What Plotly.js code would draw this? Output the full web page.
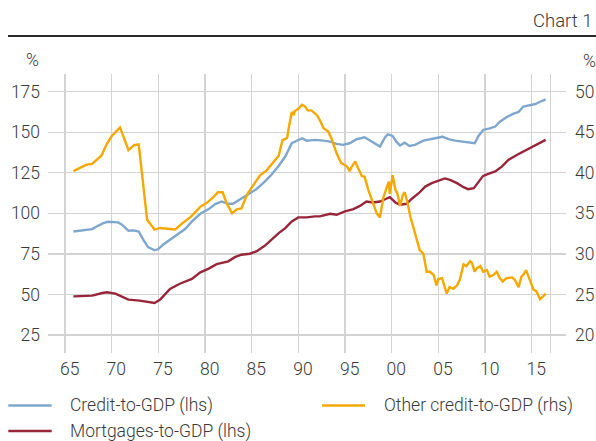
<!DOCTYPE html>
<html>
<head>
<meta charset="utf-8">
<script src="https://cdn.plot.ly/plotly-3.0.1.min.js"></script>
<style>html,body{margin:0;padding:0;background:#fff;}#chart{width:596px;height:441px;}</style>
</head>
<body>
<div id="chart"></div>
<script>
// ---- Data ----
const creditYears = [1965.9,1967.0,1967.9,1968.4,1969.1,1969.6,1970.7,1971.1,1971.8,1972.3,1972.9,1973.4,1973.9,1974.6,1975.0,1975.5,1976.25,1977.1,1977.9,1978.6,1979.5,1980.4,1981.1,1981.8,1982.5,1983.0,1983.75,1984.6,1985.5,1986.4,1987.1,1987.9,1988.6,1989.3,1989.8,1990.4,1990.9,1991.8,1992.7,1993.4,1994.1,1994.8,1995.5,1996.25,1997.1,1997.9,1998.75,1999.3,1999.6,2000.1,2000.5,2000.9,2001.4,2001.9,2002.5,2003.4,2004.3,2005.2,2005.4,2006.1,2006.8,2007.5,2008.2,2008.9,2009.3,2009.8,2010.5,2011.1,2011.6,2012.3,2013.0,2013.6,2014.1,2014.8,2015.4,2015.9,2016.5];
const creditValues = [88.8,89.5,90.3,91.9,94.0,94.8,94.4,93.0,89.3,89.5,88.8,83.7,79.2,77.2,78.0,80.6,83.7,87.4,90.5,95.0,99.7,102.6,105.7,107.3,105.9,105.9,108.7,111.4,114.9,119.6,123.7,129.3,135.0,143.2,144.8,146.3,144.8,145.3,144.8,144.2,142.8,142.2,143.2,145.7,146.9,144.2,141.2,146.9,148.7,147.7,144.2,141.8,143.6,141.6,142.2,144.8,145.7,146.9,147.3,145.7,144.8,144.2,143.8,143.2,147.7,151.4,152.4,153.5,156.5,159.2,161.3,162.5,165.8,166.8,167.4,168.8,170.3];

const mortgageYears = [1965.9,1967.9,1969.0,1969.5,1970.4,1971.8,1973.0,1974.6,1975.2,1976.25,1977.3,1978.6,1979.5,1980.4,1981.25,1982.0,1982.5,1983.2,1983.9,1984.8,1985.5,1986.4,1987.1,1987.9,1988.6,1989.3,1990.0,1990.9,1991.8,1992.3,1993.4,1994.1,1995.0,1995.9,1996.6,1997.3,1998.0,1998.75,1999.3,1999.8,2000.4,2000.9,2001.6,2002.1,2002.9,2003.6,2004.3,2005.2,2005.7,2006.25,2007.0,2007.7,2008.2,2008.8,2009.3,2009.8,2010.5,2011.1,2011.8,2012.5,2013.4,2014.3,2015.2,2015.9,2016.5];
const mortgageValues = [48.8,49.3,50.9,51.3,50.5,46.8,46.2,44.7,46.8,53.4,56.6,59.6,63.6,65.9,68.7,69.8,70.4,73.0,74.5,75.1,76.5,80.0,83.7,87.8,90.9,95.0,97.5,97.5,98.1,98.1,99.7,99.1,101.2,102.6,104.6,107.3,106.7,107.3,108.7,110.0,106.7,105.3,105.9,108.7,112.4,116.5,118.6,120.6,121.5,120.6,118.6,116.1,114.9,115.5,119.6,123.1,124.7,125.8,128.8,132.9,136.0,138.7,141.2,143.6,145.3];

const otherYears = [1965.9,1966.6,1967.3,1967.9,1968.4,1968.9,1969.5,1970.0,1970.9,1971.8,1972.4,1972.9,1973.8,1974.6,1975.2,1975.9,1976.8,1977.5,1978.5,1979.5,1980.2,1980.9,1981.4,1981.9,1982.3,1982.9,1983.4,1983.9,1984.5,1985.2,1985.9,1986.6,1987.1,1987.6,1987.9,1988.3,1988.8,1989.0,1989.3,1989.5,1989.6,1990.0,1990.4,1990.7,1991.0,1991.4,1992.0,1992.3,1992.7,1993.2,1993.6,1994.1,1994.6,1995.2,1995.5,1995.7,1996.1,1996.4,1996.8,1997.1,1997.5,1998.0,1998.4,1998.75,1999.1,1999.5,1999.7,1999.8,2000.1,2000.4,2000.6,2000.9,2001.2,2001.4,2001.7,2002.0,2002.3,2002.7,2003.0,2003.4,2003.75,2004.1,2004.5,2004.8,2005.0,2005.4,2005.9,2006.2,2006.6,2007.0,2007.3,2007.7,2008.0,2008.4,2008.6,2008.9,2009.1,2009.5,2009.8,2010.2,2010.5,2010.9,2011.25,2011.6,2011.9,2012.3,2012.9,2013.2,2013.6,2013.9,2014.1,2014.4,2014.8,2015.2,2015.5,2015.9,2016.25,2016.5];
const otherValues = [40.2,40.6,41.0,41.1,41.6,42.1,43.6,44.5,45.6,42.8,43.4,43.5,34.2,33.0,33.2,33.1,33.0,33.7,34.6,35.8,36.3,37.0,37.6,37.6,36.3,35.0,35.5,35.6,37.3,38.5,39.7,40.3,41.0,41.7,42.1,44.0,44.3,45.7,47.5,47.1,47.6,47.9,48.4,48.2,47.7,47.7,47.1,46.5,45.5,45.1,44.1,42.4,41.2,40.8,40.2,40.7,41.4,40.6,39.6,39.5,37.9,36.3,35.0,34.5,36.9,38.3,38.9,37.4,39.7,37.9,37.5,35.9,37.3,37.6,36.3,34.6,33.4,31.9,30.5,30.0,27.8,27.8,27.4,26.1,26.9,27.0,25.1,25.9,25.7,26.1,26.8,28.7,28.5,29.1,28.9,27.8,28.2,28.5,27.8,28.0,27.2,27.4,27.8,27.0,26.6,27.0,27.1,26.8,25.9,27.2,27.4,28.0,26.8,25.6,25.4,24.4,24.8,25.1];

const seriesNames = ["Credit-to-GDP (lhs)", "Other credit-to-GDP (rhs)", "Mortgages-to-GDP (lhs)"];
const gridYears = [1965,1970,1975,1980,1985,1990,1995,2000,2005,2010,2015,2017];
const labelYears = [1965.5,1970.5,1975.5,1980.5,1985.5,1990.5,1995.5,2000.5,2005.5,2010.5,2015.5];
const xTickLabels = ["65","70","75","80","85","90","95","00","05","10","15"];
const leftTicks = [25,50,75,100,125,150,175];
const rightTicks = [20,25,30,35,40,45,50];

// ---- Styling ----
const FAMILY = "Roboto, 'Liberation Sans', sans-serif";
const TXT = "#3a3a3a";
const TICKFONT = {family: FAMILY, size: 17.5, color: TXT, weight: 300};
const LEGFONT = {family: FAMILY, size: 17.5, color: TXT, weight: 300};
const GRID = "#d3d3d3";
const COLORS = ["#7fa7cd", "#f6a800", "#98263a"];
const XR = [1963.18, 2018.68];
const YL = [13.9, 185.9];
const YR = [17.78, 52.18];
const L = 48, R = 30, T = 74, B = 88, W = 596, H = 441;
const pw = W - L - R, ph = H - T - B;
const xp = px => (px - L) / pw;
const yp = py => (H - B - py) / ph;

const traces = [
  {x: creditYears, y: creditValues, name: seriesNames[0], type: "scatter", mode: "lines",
   line: {color: COLORS[0], width: 2.4}, xaxis: "x", yaxis: "y"},
  {x: otherYears, y: otherValues, name: seriesNames[1], type: "scatter", mode: "lines",
   line: {color: COLORS[1], width: 2.4}, xaxis: "x", yaxis: "y2"},
  {x: mortgageYears, y: mortgageValues, name: seriesNames[2], type: "scatter", mode: "lines",
   line: {color: COLORS[2], width: 2.4}, xaxis: "x", yaxis: "y"},
  // invisible helper to activate the label axis
  {x: [XR[0]], y: [YL[0]], xaxis: "x2", yaxis: "y", mode: "markers", marker: {opacity: 0},
   showlegend: false, hoverinfo: "skip"}
];

// legend drawn as line samples + text (positions)
const legendPos = [
  {lx0: 8.3, lx1: 51.7, tx: 68, y: 405.5},
  {lx0: 322, lx1: 365, tx: 382, y: 405.5},
  {lx0: 8.3, lx1: 51.7, tx: 68, y: 431}
];

const shapes = [
  {type: "line", xref: "paper", yref: "paper", x0: xp(8), x1: xp(596), y0: yp(36), y1: yp(36),
   line: {color: "#2a2a2a", width: 2}}
];
const annotations = [
  {text: "Chart 1", xref: "paper", yref: "paper", x: xp(595), y: yp(20.7), xanchor: "right", yanchor: "middle",
   showarrow: false, font: {family: FAMILY, size: 18.5, color: TXT, weight: 300}},
  {text: "%", xref: "paper", yref: "paper", x: xp(32), y: yp(60), xanchor: "center", yanchor: "middle",
   showarrow: false, font: TICKFONT},
  {text: "%", xref: "paper", yref: "paper", x: xp(589), y: yp(60.5), xanchor: "center", yanchor: "middle",
   showarrow: false, font: TICKFONT}
];
seriesNames.forEach((n, i) => {
  const p = legendPos[i];
  shapes.push({type: "line", xref: "paper", yref: "paper", x0: xp(p.lx0), x1: xp(p.lx1), y0: yp(p.y), y1: yp(p.y),
               line: {color: COLORS[i], width: 2.6}});
  annotations.push({text: n, xref: "paper", yref: "paper", x: xp(p.tx), y: yp(p.y), xanchor: "left", yanchor: "middle",
                    showarrow: false, font: LEGFONT});
});

const layout = {
  width: W, height: H,
  margin: {l: L, r: R, t: T, b: B, pad: 0, autoexpand: false},
  paper_bgcolor: "#fff", plot_bgcolor: "#fff",
  font: TICKFONT,
  showlegend: false,
  xaxis: {range: XR, tickmode: "array", tickvals: gridYears, ticktext: gridYears.map(() => ""),
          showgrid: true, gridcolor: GRID, gridwidth: 1.3, zeroline: false, showline: false,
          ticks: "", automargin: false},
  xaxis2: {range: XR, overlaying: "x", side: "bottom", tickmode: "array", tickvals: labelYears,
           ticktext: xTickLabels, showgrid: false, zeroline: false, showline: false, ticks: "",
           tickfont: TICKFONT, ticklabelstandoff: 3, anchor: "y", automargin: false},
  yaxis: {range: YL, tickmode: "array", tickvals: leftTicks, showgrid: true, gridcolor: GRID,
          gridwidth: 1.3, zeroline: false, showline: false, ticks: "", tickfont: TICKFONT,
          ticklabelstandoff: 7, automargin: false},
  yaxis2: {range: YR, overlaying: "y", side: "right", tickmode: "array", tickvals: rightTicks,
           showgrid: false, zeroline: false, showline: false, ticks: "", tickfont: TICKFONT,
           ticklabelstandoff: 8, automargin: false},
  shapes: shapes,
  annotations: annotations
};

Plotly.newPlot("chart", traces, layout, {staticPlot: true, displayModeBar: false});
</script>
</body>
</html>
